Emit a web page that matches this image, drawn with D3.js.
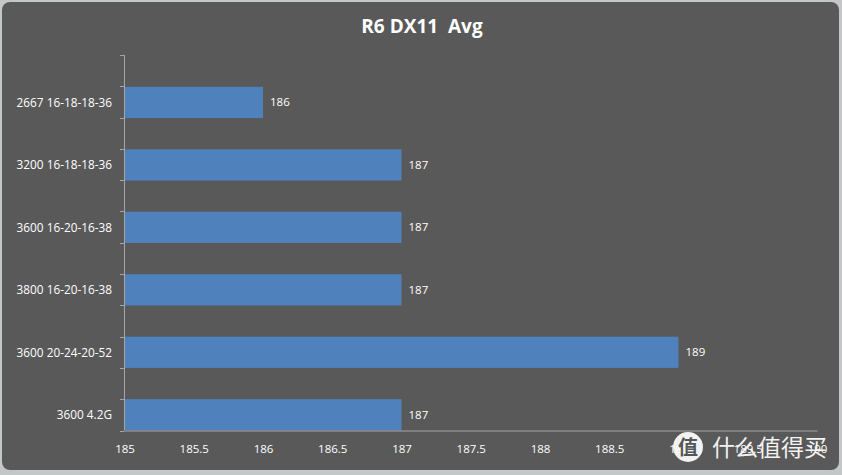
<!DOCTYPE html>
<html><head><meta charset="utf-8">
<script src="https://cdn.jsdelivr.net/npm/d3@7"></script>
<style>html,body{margin:0;padding:0;background:#c3c7c7;}svg{display:block;}</style>
</head><body>
<script>
const categories = ["2667 16-18-18-36","3200 16-18-18-36","3600 16-20-16-38","3800 16-20-16-38","3600 20-24-20-52","3600 4.2G"];
const values = [186,187,187,187,189,187];
const xTicks = [185,185.5,186,186.5,187,187.5,188,188.5,189,189.5,190];
const title = "R6 DX11  Avg";

const W = 842, H = 475;
const svg = d3.select("body").append("svg").attr("width", W).attr("height", H);
svg.append("rect").attr("x",2).attr("y",2).attr("width",837).attr("height",468).attr("rx",8).attr("fill","#595959");

const x = d3.scaleLinear().domain([185,190]).range([124.5,817]);
const y = d3.scaleBand().domain(categories).range([71.2,446]).paddingInner(0.5).paddingOuter(0.25);

const font = "'Open Sans', 'Noto Sans', sans-serif";

svg.append("text").attr("x",422).attr("y",33).attr("text-anchor","middle")
  .attr("fill","#ffffff").attr("font-family",font).attr("font-weight","bold").attr("font-size",19)
  .attr("xml:space","preserve").text(title);

// bars
svg.selectAll("rect.bar").data(categories).enter().append("rect").attr("class","bar")
  .attr("x", x(185)).attr("y", d=>y(d)).attr("height", y.bandwidth())
  .attr("width", (d,i)=>x(values[i]) - x(185)).attr("fill","#4f81bd");

// value labels
svg.selectAll("text.val").data(categories).enter().append("text").attr("class","val")
  .attr("x",(d,i)=>x(values[i])+7).attr("y",d=>y(d)+y.bandwidth()/2+4)
  .attr("fill","#ffffff").attr("font-family",font).attr("font-size",11.5)
  .text((d,i)=>values[i]);

// y axis line and ticks
const axisColor = "#a6a6a6";
svg.append("line").attr("x1",124.5).attr("x2",124.5).attr("y1",55).attr("y2",430.5).attr("stroke",axisColor);
const tickYs = d3.range(0,13).map(k=>55+k*(375.5/12));
svg.selectAll("line.yt").data(tickYs).enter().append("line").attr("class","yt")
  .attr("x1",120).attr("x2",124.5).attr("y1",d=>Math.round(d)+0.5).attr("y2",d=>Math.round(d)+0.5).attr("stroke",axisColor);

// category labels
svg.selectAll("text.cat").data(categories).enter().append("text").attr("class","cat")
  .attr("x",112).attr("y",d=>y(d)+y.bandwidth()/2+4.5).attr("text-anchor","end")
  .attr("fill","#ffffff").attr("font-family",font).attr("font-size",11.8)
  .text(d=>d);

// x axis
const xAxis = d3.axisBottom(x).tickValues(xTicks).tickSize(0).tickPadding(14).tickFormat(d3.format("~g"));
const gx = svg.append("g").attr("transform","translate(0,430.5)").call(xAxis);
gx.select(".domain").attr("stroke",axisColor);
gx.selectAll("text").attr("fill","#ffffff").attr("font-family",font).attr("font-size",11.5);

// watermark
const wm = svg.append("g").attr("opacity",0.92);
wm.append("circle").attr("cx",688).attr("cy",447).attr("r",15).attr("fill","#ffffff");
wm.append("text").attr("x",688).attr("y",455).attr("text-anchor","middle").attr("fill","#555555")
  .attr("font-family","'Noto Sans CJK SC'").attr("font-weight","bold").attr("font-size",20).text("值");
wm.append("text").attr("x",712).attr("y",456).attr("fill","#ffffff")
  .attr("font-family","'Noto Sans CJK SC'").attr("font-size",23).text("什么值得买");
</script>
</body></html>
